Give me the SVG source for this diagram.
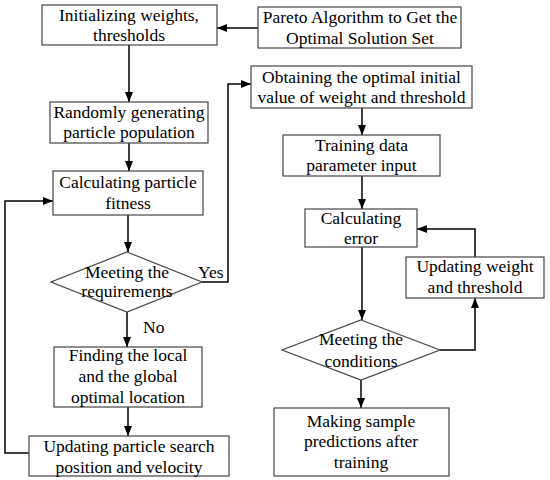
<svg xmlns="http://www.w3.org/2000/svg" width="550" height="480" viewBox="0 0 550 480" font-family="Times New Roman, Liberation Serif, serif">
<style>
.box{fill:#fff;stroke:#444;stroke-width:1.2}
.cn{fill:none;stroke:#000;stroke-width:1.5}
text{font-family:'Times New Roman','Liberation Serif',serif !important;font-size:17.5px;fill:#000}
</style>
<defs>
<marker id="a" viewBox="0 0 10 8" refX="10" refY="4" markerWidth="10" markerHeight="8" markerUnits="userSpaceOnUse" orient="auto">
<path d="M0,0L10,4L0,8z" fill="#000"/>
</marker>
</defs>
<rect width="550" height="480" fill="#fff"/>
<g id="connectors">
<path class="cn" d="M258,28H217" marker-end="url(#a)"/>
<path class="cn" d="M129,45V102" marker-end="url(#a)"/>
<path class="cn" d="M129,143V171" marker-end="url(#a)"/>
<path class="cn" d="M128,215V252" marker-end="url(#a)"/>
<path class="cn" d="M202,282H228V84H251" marker-end="url(#a)"/>
<path class="cn" d="M127,312V347" marker-end="url(#a)"/>
<path class="cn" d="M128,407V436" marker-end="url(#a)"/>
<path class="cn" d="M29,453H5V201H53" marker-end="url(#a)"/>
<path class="cn" d="M362,108V135" marker-end="url(#a)"/>
<path class="cn" d="M362,176V209" marker-end="url(#a)"/>
<path class="cn" d="M362,247V320" marker-end="url(#a)"/>
<path class="cn" d="M361,380V408" marker-end="url(#a)"/>
<path class="cn" d="M440,350H475V298" marker-end="url(#a)"/>
<path class="cn" d="M475,257V229H417" marker-end="url(#a)"/>
<text font-family="Times New Roman" x="198" y="278">Yes</text>
<text font-family="Times New Roman" x="143" y="333">No</text>
</g>
<g id="init">
<rect class="box" x="42" y="5" width="175" height="40"/>
<text font-family="Times New Roman" text-anchor="middle" x="129" y="21">Initializing weights,</text>
<text font-family="Times New Roman" text-anchor="middle" x="129" y="41">thresholds</text>
</g>
<g id="pareto">
<rect class="box" x="258" y="7" width="203" height="41"/>
<text font-family="Times New Roman" text-anchor="middle" x="360" y="23">Pareto Algorithm to Get the</text>
<text font-family="Times New Roman" text-anchor="middle" x="360" y="44">Optimal Solution Set</text>
</g>
<g id="random">
<rect class="box" x="50" y="102" width="158" height="41"/>
<text font-family="Times New Roman" text-anchor="middle" x="129" y="118">Randomly generating</text>
<text font-family="Times New Roman" text-anchor="middle" x="129" y="138">particle population</text>
</g>
<g id="fitness">
<rect class="box" x="53" y="171" width="150" height="44"/>
<text font-family="Times New Roman" text-anchor="middle" x="128" y="188">Calculating particle</text>
<text font-family="Times New Roman" text-anchor="middle" x="128" y="209">fitness</text>
</g>
<g id="req">
<path class="box" d="M127,252L202,282L127,312L51,282Z"/>
<text font-family="Times New Roman" text-anchor="middle" x="127" y="278">Meeting the</text>
<text font-family="Times New Roman" text-anchor="middle" x="127" y="297">requirements</text>
</g>
<g id="finding">
<rect class="box" x="54" y="347" width="148" height="60"/>
<text font-family="Times New Roman" text-anchor="middle" x="128" y="361">Finding the local</text>
<text font-family="Times New Roman" text-anchor="middle" x="128" y="382">and the global</text>
<text font-family="Times New Roman" text-anchor="middle" x="128" y="403">optimal location</text>
</g>
<g id="updpart">
<rect class="box" x="29" y="436" width="200" height="40"/>
<text font-family="Times New Roman" text-anchor="middle" x="129" y="452">Updating particle search</text>
<text font-family="Times New Roman" text-anchor="middle" x="129" y="473">position and velocity</text>
</g>
<g id="obtain">
<rect class="box" x="251" y="66" width="221" height="42"/>
<text font-family="Times New Roman" text-anchor="middle" x="361.5" y="83">Obtaining the optimal initial</text>
<text font-family="Times New Roman" text-anchor="middle" x="361.5" y="103">value of weight and threshold</text>
</g>
<g id="training">
<rect class="box" x="283" y="135" width="157" height="41"/>
<text font-family="Times New Roman" text-anchor="middle" x="361.5" y="151">Training data</text>
<text font-family="Times New Roman" text-anchor="middle" x="361.5" y="171">parameter input</text>
</g>
<g id="error">
<rect class="box" x="305" y="209" width="112" height="38"/>
<text font-family="Times New Roman" text-anchor="middle" x="361" y="224">Calculating</text>
<text font-family="Times New Roman" text-anchor="middle" x="361" y="244">error</text>
</g>
<g id="updw">
<rect class="box" x="406" y="257" width="138" height="41"/>
<text font-family="Times New Roman" text-anchor="middle" x="475" y="272">Updating weight</text>
<text font-family="Times New Roman" text-anchor="middle" x="475" y="293">and threshold</text>
</g>
<g id="cond">
<path class="box" d="M361,320L440,350L361,380L282,350Z"/>
<text font-family="Times New Roman" text-anchor="middle" x="361" y="345">Meeting the</text>
<text font-family="Times New Roman" text-anchor="middle" x="361" y="367">conditions</text>
</g>
<g id="predict">
<rect class="box" x="274" y="408" width="175" height="68"/>
<text font-family="Times New Roman" text-anchor="middle" x="361" y="427">Making sample</text>
<text font-family="Times New Roman" text-anchor="middle" x="361" y="447">predictions after</text>
<text font-family="Times New Roman" text-anchor="middle" x="361" y="468">training</text>
</g>
</svg>
